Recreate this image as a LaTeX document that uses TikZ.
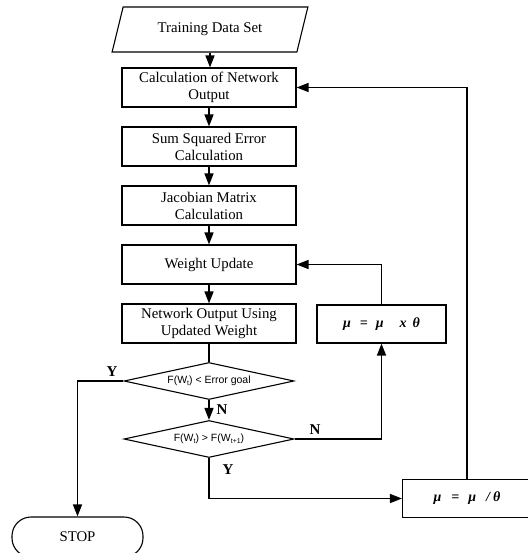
\documentclass[tikz,border=0pt]{standalone}
\usepackage{fontspec}
\setmainfont{Liberation Serif}
\newfontfamily\diafont{Liberation Sans}
\usetikzlibrary{shapes.geometric,arrows.meta}
\newcommand\lowsub[1]{\raisebox{-1.8pt}{\fontsize{7}{7}\selectfont #1}}

\begin{document}
\begin{tikzpicture}[x=1pt,y=-1pt,
  procbox/.style={draw,line width=1.1pt,minimum width=174,minimum height=39,
    inner sep=0,align=center,font=\fontsize{14.8}{17}\selectfont},
  inputbox/.style={trapezium,trapezium left angle=63,trapezium right angle=117,
    trapezium stretches=true,draw,line width=1.1pt,minimum width=196,
    minimum height=45,inner sep=0,font=\fontsize{14.8}{17}\selectfont},
  decision/.style={diamond,draw,line width=1.1pt,minimum width=170,
    minimum height=37,aspect=4.6,inner sep=0,
    font=\diafont\fontsize{10.5}{12}\selectfont},
  endbox/.style={draw,line width=1.1pt,rounded corners=19pt,minimum width=131,
    minimum height=40,inner sep=0,font=\fontsize{14.8}{17}\selectfont},
  mubox/.style={draw,line width=1.1pt,minimum width=129,minimum height=38,
    inner sep=0,font=\bfseries\itshape\fontsize{14}{14}\selectfont},
  flow/.style={line width=1.4pt,-{Triangle[length=12pt,width=9pt]}},
  plain/.style={line width=1.4pt},
  lbl/.style={inner sep=0,font=\bfseries\fontsize{15}{15}\selectfont}]

\useasboundingbox (0,0) rectangle (527,553);

% main column
\node[inputbox] (data) at (210,29.5) {Training Data Set};
\node[procbox] (b1) at (209,87.5)  {Calculation of Network\\Output};
\node[procbox] (b2) at (209,146.5) {Sum Squared Error\\Calculation};
\node[procbox] (b3) at (209,205.5) {Jacobian Matrix\\Calculation};
\node[procbox] (b4) at (209,264.5) {Weight Update};
\node[procbox] (b5) at (209,323.5) {Network Output Using\\Updated Weight};
\node[decision] (d1) at (209,381) {F(W\lowsub{t}) < Error goal};
\node[decision] (d2) at (209,439) {F(W\lowsub{t}) > F(W\lowsub{t+1})};
\node[endbox] (stop) at (77.5,537) {STOP};

% damping factor updates
\node[mubox] (mu1) at (381.5,324) {μ\hspace{9pt}=\hspace{8pt}μ\hspace{16pt}x\hspace{6pt}θ};
\node[mubox] (mu2) at (467,498.5) {μ\hspace{10pt}=\hspace{9pt}μ\hspace{10pt}/\hspace{3pt}θ};

% branch labels
\node[lbl] (y1) at (112,372) {Y};
\node[lbl] (n1) at (222,410) {N};
\node[lbl] (n2) at (315,430) {N};
\node[lbl] (y2) at (228,470) {Y};

% connectors
\draw[flow] (data.south) -- (data.south |- b1.north);
\draw[flow] (b1) -- (b2);
\draw[flow] (b2) -- (b3);
\draw[flow] (b3) -- (b4);
\draw[flow] (b4) -- (b5);
\draw[plain] (b5) -- (d1);
\draw[flow] (d1) -- (d2);
\draw[flow] (d1.west) -| (stop.north);
\draw[flow] (d2.east) -| (mu1.south);
\draw[flow] (mu1.north) |- (b4.east);
\draw[flow] (d2.south) |- (mu2.west);
\draw[flow] (mu2.north) |- (b1.east);
\end{tikzpicture}
\end{document}
